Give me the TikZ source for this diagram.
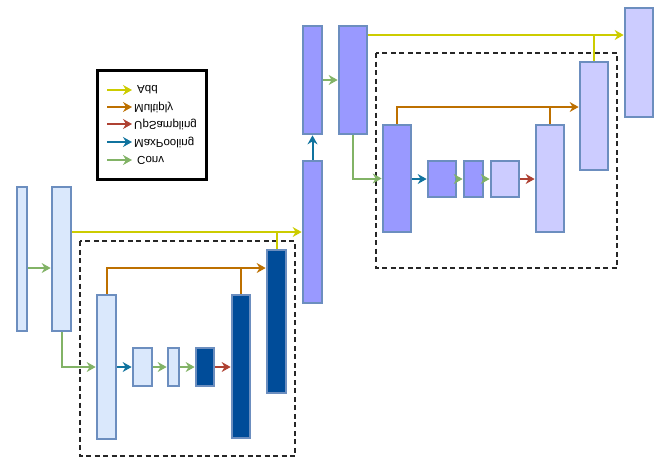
\documentclass[tikz,border=0pt]{standalone}
\usepackage{fontspec}
\setmainfont{Liberation Sans}
\usetikzlibrary{arrows.meta,calc}
\definecolor{lightblue}{HTML}{DAE8FC}
\definecolor{bordercol}{HTML}{6C8EBF}
\definecolor{darkblue}{HTML}{004C99}
\definecolor{purplefill}{HTML}{9999FF}
\definecolor{lavender}{HTML}{CCCCFF}
\definecolor{cgreen}{HTML}{82B366}
\definecolor{cblue}{HTML}{10739E}
\definecolor{cred}{HTML}{AE4132}
\definecolor{corange}{HTML}{BD7000}
\definecolor{cyellow}{HTML}{CCCC00}
\newcommand{\layerbox}[6]{\node[layer,#6,minimum width={#4-#2},minimum height={#5-#3}] (#1) at ({(#2+#4)/2},{(#3+#5)/2}) {};}
\tikzset{
  layer/.style={draw=bordercol,line width=2.7pt,inner sep=0pt,rectangle},
  lb/.style={fill=lightblue},
  db/.style={fill=darkblue},
  pf/.style={fill=purplefill},
  lv/.style={fill=lavender},
  conn/.style={line width=2pt,-{Stealth[length=9pt,width=10pt,inset=3pt]}},
  plain/.style={line width=2pt},
  gr/.style={conn,draw=cgreen,color=cgreen},
  bl/.style={conn,draw=cblue,color=cblue},
  rd/.style={conn,draw=cred,color=cred},
  og/.style={conn,draw=corange,color=corange},
  ye/.style={conn,draw=cyellow,color=cyellow},
  dashbox/.style={draw=black!85,line width=2.2pt,dash pattern=on 5pt off 3.5pt},
  legtext/.style={font=\fontsize{11.5}{12}\selectfont,inner sep=0pt,anchor=west}
}
\begin{document}
\begin{tikzpicture}[x=1pt,y=-1pt]
\useasboundingbox (0,0) rectangle (661,459);
% dashed frames
\draw[dashbox] (80,241) rectangle (295,456);
\draw[dashbox] (376,53) rectangle (617,268);
% left part
\layerbox{A}{17}{187}{27}{331}{lb}
\layerbox{B}{52}{187}{71}{331}{lb}
\layerbox{D}{97}{295}{116}{439}{lb}
\layerbox{E}{133}{348}{152}{386}{lb}
\layerbox{F}{168}{348}{179}{386}{lb}
\layerbox{G}{196}{348}{214}{386}{db}
\layerbox{K1}{232}{295}{250}{438}{db}
\layerbox{K2}{267}{250}{286}{393}{db}
% middle
\layerbox{C}{303}{161}{322}{303}{pf}
\layerbox{H}{303}{26}{322}{134}{pf}
\layerbox{I}{339}{26}{367}{134}{pf}
% right part
\layerbox{K}{383}{125}{411}{232}{pf}
\layerbox{L}{428}{161}{456}{197}{pf}
\layerbox{P}{464}{161}{483}{197}{pf}
\layerbox{Q}{491}{161}{519}{197}{lv}
\layerbox{M}{536}{125}{564}{232}{lv}
\layerbox{N}{580}{62}{608}{170}{lv}
\layerbox{J}{625}{8}{653}{117}{lv}
% helper heights
\coordinate (y1) at (0,268);
\coordinate (y2) at (0,232);
\coordinate (y3) at (0,268);
\coordinate (y4) at (0,35);
\coordinate (y5) at (0,107);
% left connectors
\draw[plain,cyellow] (K2.north) -- (K2.north |- y2);
\draw[plain,corange] (K1.north) -- (K1.north |- y3);
\draw[gr] (A.east |- y1) -- (B.west |- y1);
\draw[ye] (B.east |- y2) -- (C.west |- y2);
\draw[gr] (B.south) |- (D.west);
\draw[og] (D.north) |- (K2.west |- y3);
\draw[bl] (D.east) -- (E.west);
\draw[gr] (E.east) -- (F.west);
\draw[gr] (F.east) -- (G.west);
\draw[rd] (G.east) -- (K1.west |- G.east);
% middle connectors
\draw[bl] (C.north) -- (H.south);
\draw[gr] (H.east) -- (I.west);
% right connectors
\draw[plain,cyellow] (N.north) -- (N.north |- y4);
\draw[plain,corange] (M.north) -- (M.north |- y5);
\draw[ye] (I.east |- y4) -- (J.west |- y4);
\draw[gr] (I.south) |- (K.west);
\draw[og] (K.north) |- (N.west |- y5);
\draw[bl] (K.east |- L.west) -- (L.west);
\draw[gr] (L.east) -- (P.west);
\draw[gr] (P.east) -- (Q.west);
\draw[rd] (Q.east) -- (M.west |- Q.east);
% legend
\node[draw=black,line width=3pt,minimum width=109,minimum height=109,inner sep=0pt] (leg) at (151.5,124.5) {};
\coordinate (la1) at (107,90);  \coordinate (lb1) at (132,90);
\coordinate (la2) at (107,107); \coordinate (lb2) at (132,107);
\coordinate (la3) at (107,124); \coordinate (lb3) at (132,124);
\coordinate (la4) at (107,142); \coordinate (lb4) at (132,142);
\coordinate (la5) at (107,160); \coordinate (lb5) at (132,160);
\draw[ye] (la1) -- (lb1);
\draw[og] (la2) -- (lb2);
\draw[rd] (la3) -- (lb3);
\draw[bl] (la4) -- (lb4);
\draw[gr] (la5) -- (lb5);
\node[legtext] (t1) at (137,90) {\scalebox{1}[-1]{Add}};
\node[legtext] (t2) at (134,107) {\scalebox{1}[-1]{Multiply}};
\node[legtext] (t3) at (134,124) {\scalebox{1}[-1]{UpSampling}};
\node[legtext] (t4) at (134,142) {\scalebox{1}[-1]{MaxPooling}};
\node[legtext] (t5) at (137,160) {\scalebox{1}[-1]{Conv}};
\end{tikzpicture}
\end{document}
